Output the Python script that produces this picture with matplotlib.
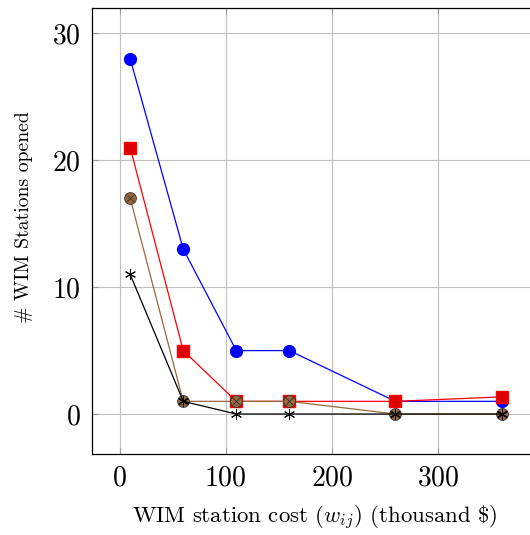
import matplotlib
matplotlib.use("Agg")
import matplotlib.pyplot as plt

plt.rcParams["font.family"] = "serif"
plt.rcParams["font.serif"] = ["cmr10", "DejaVu Serif"]
plt.rcParams["mathtext.fontset"] = "cm"
plt.rcParams["axes.formatter.use_mathtext"] = True

cost = [10, 60, 110, 160, 260, 360]
blue_vals = [28, 13, 5, 5, 1, 1]
red_vals = [21, 5, 1, 1, 1, 1.35]
brown_vals = [17, 1, 1, 1, 0, 0]
black_vals = [11, 1, 0, 0, 0, 0]

brown = "#99683a"

fig = plt.figure(figsize=(5.3, 5.35), dpi=100)
ax = fig.add_axes([92 / 530, 1 - 454 / 535, 445 / 530, 446 / 535])

ax.plot(cost, blue_vals, color="blue", lw=0.9, marker="o", ms=8.5, mfc="blue", mec="blue", zorder=3)
ax.plot(cost, red_vals, color="red", lw=0.9, marker="s", ms=8.5, mfc="#dd0000", mec="red", zorder=4)
ax.plot(cost, brown_vals, color=brown, lw=0.9, marker="o", ms=8.5, mfc=brown, mec="#333333", mew=0.6, zorder=5)
ax.plot(cost, brown_vals, ls="none", marker="x", ms=5.5, mec="#333333", mew=0.6, zorder=6)
ax.plot(cost, black_vals, color="black", lw=0.9, marker=(6, 2, 0), ms=8, mec="black", mew=0.7, zorder=7)

ax.set_xlim(-26, 393.4)
ax.set_ylim(-3.15, 32)
ax.set_xticks([0, 100, 200, 300])
ax.set_yticks([0, 10, 20, 30])
ax.grid(True, color="#c0c0c0", lw=0.8)
ax.set_axisbelow(True)
ax.tick_params(direction="in", labelsize=20, length=4, width=0.8, pad=8,
               top=True, right=True, colors="#999999", labelcolor="black")
for s in ax.spines.values():
    s.set_linewidth(0.9)

ax.set_xlabel(r"WIM station cost ($w_{ij}$) (thousand \$)", fontsize=16.4, labelpad=9)
ax.set_ylabel(r"# WIM Stations opened", fontsize=14.2)
ax.yaxis.set_label_coords(-0.133, 0.531)

fig.savefig("out.png", dpi=100)
